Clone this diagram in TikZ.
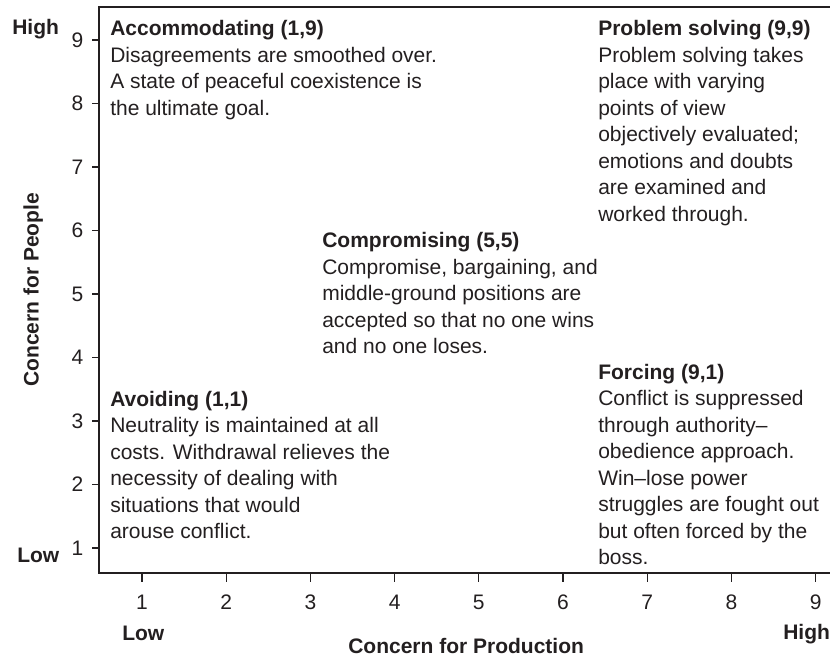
\documentclass[tikz,border=0pt]{standalone}
\usepackage{fontspec}
\setmainfont{Liberation Sans}
\definecolor{ink}{HTML}{231F20}
\newcommand{\blocktext}[2]{\begin{tabular}[t]{@{}l@{}}\textbf{#1}\\#2\end{tabular}}
\tikzset{
  txt/.style={inner sep=0pt, text=ink, font=\fontsize{15.75pt}{19.875pt}\selectfont},
  bold/.style={txt, font=\fontsize{15.75pt}{19.875pt}\selectfont\bfseries},
  blockbox/.style={txt, anchor=base west},
  axisline/.style={draw=ink, line width=1.1pt},
  tickline/.style={draw=ink, line width=1pt}
}
\begin{document}
\begin{tikzpicture}[x=0.75pt,y=-0.75pt]
\useasboundingbox (0,0) rectangle (830,656);
% frame / axes
\coordinate (tr) at (830,7);
\coordinate (tl) at (99,7);
\coordinate (bl) at (99,573);
\coordinate (br) at (830,573);
\draw[axisline] (tr) -- (tl) -- (bl) -- (br);
% ticks
\foreach \i [evaluate=\i as \yy using 548-(\i-1)*63.5,
             evaluate=\i as \xx using 142+(\i-1)*84.2] in {1,...,9} {
  \coordinate (ya\i) at (92,\yy);
  \coordinate (yb\i) at (99,\yy);
  \draw[tickline] (ya\i) -- (yb\i);
  \node[txt, anchor=east] (yl\i) at (83.5,\yy) {\i};
  \coordinate (xa\i) at (\xx,573);
  \coordinate (xb\i) at (\xx,582);
  \draw[tickline] (xa\i) -- (xb\i);
  \node[txt] (xl\i) at (\xx,602.5) {\i};
}
% axis labels
\node[bold, anchor=base west] (hightop) at (12,35) {High};
\node[bold, anchor=base west] (lowleft) at (17,562) {Low};
\node[bold, anchor=base west] (lowbot) at (122,640.5) {Low};
\node[bold, anchor=base west] (highbot) at (783,639.5) {High};
\node[bold, anchor=base west] (xtitle) at (348,653) {Concern for Production};
\node[bold, anchor=base west, rotate=90] (ytitle) at (38.5,387) {Concern for People};
% blocks
\node[blockbox] (accom) at (110,36) {\blocktext{Accommodating (1,9)}{Disagreements are smoothed over.\\A state of peaceful coexistence is\\the ultimate goal.}};
\node[blockbox] (probsolv) at (598,36) {\blocktext{Problem solving (9,9)}{Problem solving takes\\place with varying\\points of view\\objectively evaluated;\\emotions and doubts\\are examined and\\worked through.}};
\node[blockbox] (compro) at (322,247.5) {\blocktext{Compromising (5,5)}{Compromise, bargaining, and\\middle-ground positions are\\accepted so that no one wins\\and no one loses.}};
\node[blockbox] (avoid) at (110,406) {\blocktext{Avoiding (1,1)}{Neutrality is maintained at all\\costs. Withdrawal relieves the\\necessity of dealing with\\situations that would\\arouse conflict.}};
\node[blockbox] (forcing) at (598,379) {\blocktext{Forcing (9,1)}{Conflict is suppressed\\through authority--\\obedience approach.\\Win--lose power\\struggles are fought out\\but often forced by the\\boss.}};
\end{tikzpicture}
\end{document}
